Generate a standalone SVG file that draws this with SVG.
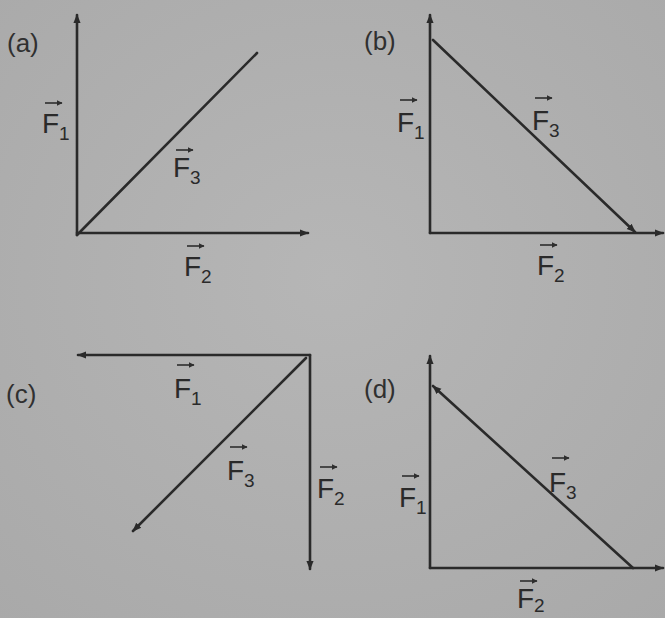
<svg xmlns="http://www.w3.org/2000/svg" width="665" height="618" viewBox="0 0 665 618">
  <defs>
    <marker id="ah" viewBox="0 0 10 10" refX="9" refY="5" markerWidth="9" markerHeight="9" markerUnits="userSpaceOnUse" orient="auto">
      <path d="M0,1 L10,5 L0,9 Z" fill="#2a2a2a"/>
    </marker>
    <marker id="va" viewBox="0 0 10 10" refX="9" refY="5" markerWidth="6" markerHeight="6" markerUnits="userSpaceOnUse" orient="auto">
      <path d="M0,0 L10,5 L0,10 Z" fill="#2e2e2e"/>
    </marker>
    <radialGradient id="bg" cx="50%" cy="45%" r="75%">
      <stop offset="0" stop-color="#b6b6b6"/>
      <stop offset="1" stop-color="#a9a9a9"/>
    </radialGradient>
  </defs>
  <style>
    .ln { stroke: #2a2a2a; stroke-width: 2.6; fill: none; stroke-linecap: round; }
    .vec { stroke: #2e2e2e; stroke-width: 1.6; fill: none; }
    .lbl { font-family: "Liberation Sans", Arial, sans-serif; font-size: 28px; fill: #2a2a2a; }
    .sub { font-size: 19px; }
    .tag { font-family: "Liberation Sans", Arial, sans-serif; font-size: 26px; fill: #303030; }
  </style>
  <rect width="665" height="618" fill="url(#bg)"/>

  <g id="connectors">
    <!-- (a) -->
    <line class="ln" x1="77" y1="235" x2="77" y2="15" marker-end="url(#ah)"/>
    <line class="ln" x1="77" y1="233" x2="308" y2="233" marker-end="url(#ah)"/>
    <line class="ln" x1="77" y1="235" x2="257" y2="53"/>
    <!-- (b) -->
    <line class="ln" x1="430" y1="233" x2="430" y2="15" marker-end="url(#ah)"/>
    <line class="ln" x1="430" y1="233" x2="663" y2="233" marker-end="url(#ah)"/>
    <line class="ln" x1="433" y1="40" x2="635" y2="232" marker-end="url(#ah)"/>
    <!-- (c) -->
    <line class="ln" x1="310" y1="355" x2="78" y2="355" marker-end="url(#ah)"/>
    <line class="ln" x1="310" y1="355" x2="310" y2="569" marker-end="url(#ah)"/>
    <line class="ln" x1="306" y1="358" x2="133" y2="531" marker-end="url(#ah)"/>
    <!-- (d) -->
    <line class="ln" x1="430" y1="568" x2="430" y2="356" marker-end="url(#ah)"/>
    <line class="ln" x1="430" y1="568" x2="663" y2="568" marker-end="url(#ah)"/>
    <line class="ln" x1="633" y1="568" x2="433" y2="386" marker-end="url(#ah)"/>
  </g>

  <g id="panel-a">
    <text class="tag" x="7" y="52">(a)</text>
    <g id="a-F1"><line class="vec" x1="45" y1="103" x2="62" y2="103" marker-end="url(#va)"/><text class="lbl" x="42" y="133">F<tspan class="sub" dy="7">1</tspan></text></g>
    <g id="a-F3"><line class="vec" x1="176" y1="150" x2="193" y2="150" marker-end="url(#va)"/><text class="lbl" x="173" y="177">F<tspan class="sub" dy="7">3</tspan></text></g>
    <g id="a-F2"><line class="vec" x1="187" y1="246" x2="204" y2="246" marker-end="url(#va)"/><text class="lbl" x="184" y="276">F<tspan class="sub" dy="7">2</tspan></text></g>
  </g>

  <g id="panel-b">
    <text class="tag" x="364" y="50">(b)</text>
    <g id="b-F1"><line class="vec" x1="400" y1="100" x2="417" y2="100" marker-end="url(#va)"/><text class="lbl" x="397" y="132">F<tspan class="sub" dy="7">1</tspan></text></g>
    <g id="b-F3"><line class="vec" x1="535" y1="98" x2="552" y2="98" marker-end="url(#va)"/><text class="lbl" x="532" y="130">F<tspan class="sub" dy="7">3</tspan></text></g>
    <g id="b-F2"><line class="vec" x1="540" y1="245" x2="557" y2="245" marker-end="url(#va)"/><text class="lbl" x="537" y="275">F<tspan class="sub" dy="7">2</tspan></text></g>
  </g>

  <g id="panel-c">
    <text class="tag" x="6" y="403">(c)</text>
    <g id="c-F1"><line class="vec" x1="177" y1="365" x2="194" y2="365" marker-end="url(#va)"/><text class="lbl" x="174" y="398">F<tspan class="sub" dy="7">1</tspan></text></g>
    <g id="c-F3"><line class="vec" x1="230" y1="447" x2="247" y2="447" marker-end="url(#va)"/><text class="lbl" x="227" y="480">F<tspan class="sub" dy="7">3</tspan></text></g>
    <g id="c-F2"><line class="vec" x1="320" y1="467" x2="337" y2="467" marker-end="url(#va)"/><text class="lbl" x="317" y="498">F<tspan class="sub" dy="7">2</tspan></text></g>
  </g>

  <g id="panel-d">
    <text class="tag" x="364" y="398">(d)</text>
    <g id="d-F1"><line class="vec" x1="402" y1="476" x2="419" y2="476" marker-end="url(#va)"/><text class="lbl" x="399" y="507">F<tspan class="sub" dy="7">1</tspan></text></g>
    <g id="d-F3"><line class="vec" x1="552" y1="458" x2="569" y2="458" marker-end="url(#va)"/><text class="lbl" x="549" y="492">F<tspan class="sub" dy="7">3</tspan></text></g>
    <g id="d-F2"><line class="vec" x1="520" y1="581" x2="537" y2="581" marker-end="url(#va)"/><text class="lbl" x="517" y="608">F<tspan class="sub" dy="4">2</tspan></text></g>
  </g>
</svg>
